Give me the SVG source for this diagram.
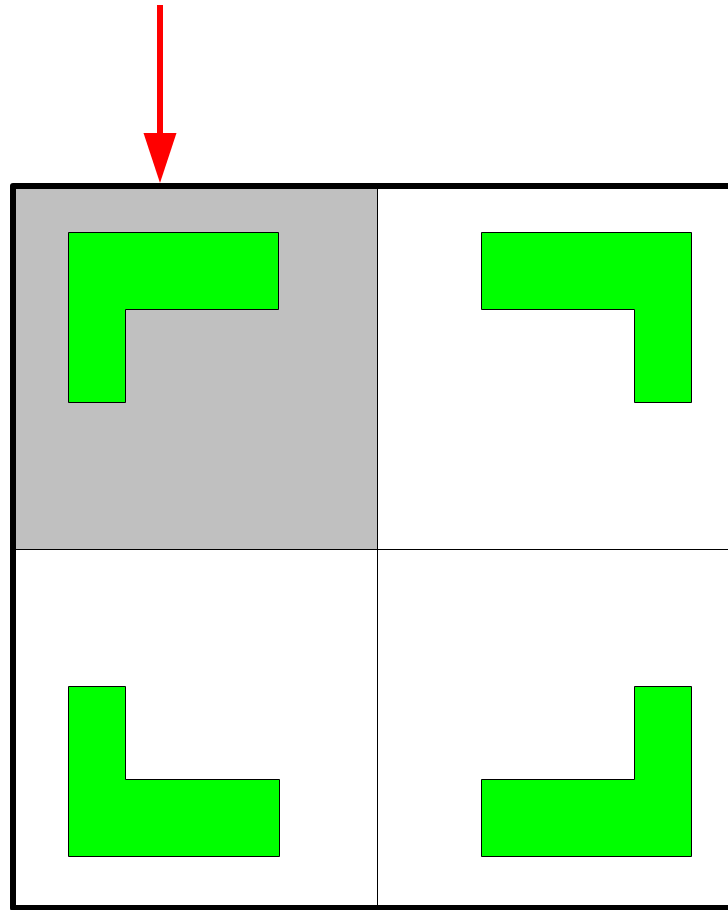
<svg xmlns="http://www.w3.org/2000/svg" width="728" height="910" viewBox="0 0 728 910">
<style>
.shape{fill:#00ff00;stroke:#000;stroke-width:1}
.grid{stroke:#000;stroke-width:1;fill:none}
</style>
<rect x="0" y="0" width="728" height="910" fill="#fff"/>
<g id="cell-top-left">
<rect x="13" y="186" width="364.5" height="363.5" fill="#c0c0c0"/>
</g>
<g id="grid">
<line class="grid" x1="377.5" y1="186" x2="377.5" y2="908"/>
<line class="grid" x1="13" y1="549.5" x2="728" y2="549.5"/>
</g>
<g id="border">
<rect x="13" y="186" width="740" height="722" fill="none" stroke="#000" stroke-width="6" stroke-linejoin="round"/>
</g>
<g id="L-top-left">
<polygon class="shape" points="68.5,232.5 278.5,232.5 278.5,309.5 125.5,309.5 125.5,402.5 68.5,402.5"/>
</g>
<g id="L-top-right">
<polygon class="shape" points="481.5,232.5 691.5,232.5 691.5,402.5 634.5,402.5 634.5,309.5 481.5,309.5"/>
</g>
<g id="L-bottom-left">
<polygon class="shape" points="68.5,686.5 125.5,686.5 125.5,779.5 279.5,779.5 279.5,856.5 68.5,856.5"/>
</g>
<g id="L-bottom-right">
<polygon class="shape" points="634.5,686.5 691.5,686.5 691.5,856.5 481.5,856.5 481.5,779.5 634.5,779.5"/>
</g>
<g id="connectors">
<line x1="160" y1="5" x2="160" y2="136" stroke="#ff0000" stroke-width="6"/>
<polygon points="143.5,133 176.5,133 160,183" fill="#ff0000"/>
</g>
</svg>
